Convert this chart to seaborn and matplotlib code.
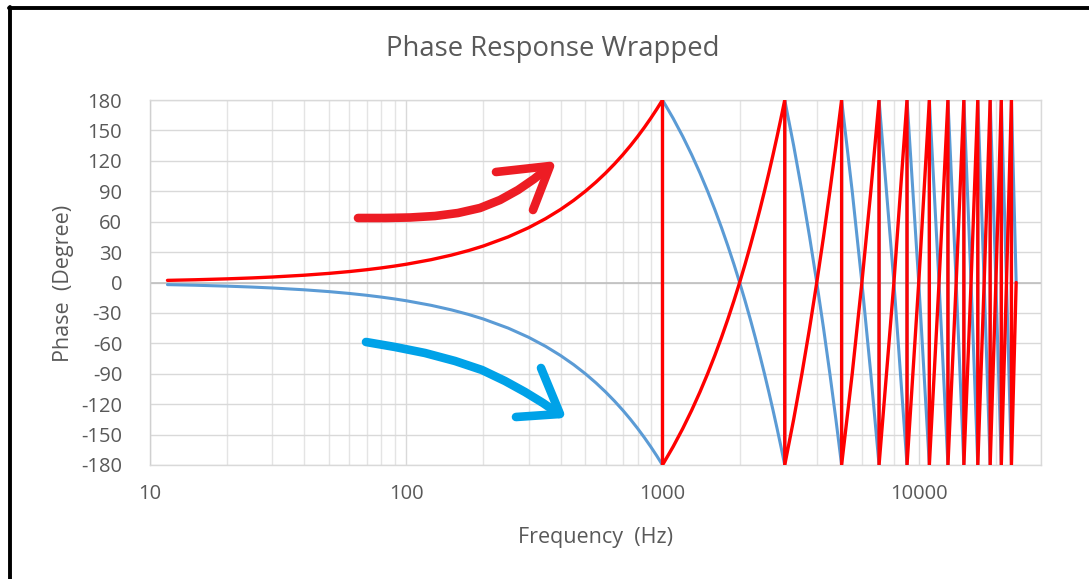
import numpy as np
import pandas as pd
import matplotlib
matplotlib.use("Agg")
import matplotlib.pyplot as plt
import matplotlib.ticker as mticker
from matplotlib.lines import Line2D
import seaborn as sns

# ---------------- data ----------------
freq_hz = [11.7, 15, 20, 25, 30, 40, 50, 60, 70, 80, 90, 100, 125, 150, 175,
           200, 250, 300, 350, 400, 450, 500, 550, 600, 650, 700, 750, 800, 850, 900, 950, 1000,
           1000, 1100, 1200, 1300, 1400, 1500, 1600, 1700, 1800, 1900, 2000,
           2100, 2200, 2300, 2400, 2500, 2600, 2700, 2800, 2900, 3000,
           3000, 3250, 3500, 3750, 4000, 4250, 4500, 4750, 5000,
           5000, 5500, 6000, 6500, 7000,
           7000, 8000, 9000,
           9000, 10000, 11000,
           11000, 12000, 13000,
           13000, 14000, 15000,
           15000, 16000, 17000,
           17000, 18000, 19000,
           19000, 20000, 21000,
           21000, 22000, 23000,
           23000, 24000]

red_phase = [2.1, 2.7, 3.6, 4.5, 5.4, 7.2, 9, 10.8, 12.6, 14.4, 16.2, 18, 22.5, 27, 31.5,
             36, 45, 54, 63, 72, 81, 90, 99, 108, 117, 126, 135, 144, 153, 162, 171, 180,
             -180, -162, -144, -126, -108, -90, -72, -54, -36, -18, 0,
             18, 36, 54, 72, 90, 108, 126, 144, 162, 180,
             -180, -135, -90, -45, 0, 45, 90, 135, 180,
             -180, -90, 0, 90, 180,
             -180, 0, 180,
             -180, 0, 180,
             -180, 0, 180,
             -180, 0, 180,
             -180, 0, 180,
             -180, 0, 180,
             -180, 0, 180,
             -180, 0, 180,
             -180, 0]

blue_phase = [-2.1, -2.7, -3.6, -4.5, -5.4, -7.2, -9, -10.8, -12.6, -14.4, -16.2, -18, -22.5, -27, -31.5,
              -36, -45, -54, -63, -72, -81, -90, -99, -108, -117, -126, -135, -144, -153, -162, -171, -180,
              180, 162, 144, 126, 108, 90, 72, 54, 36, 18, 0,
              -18, -36, -54, -72, -90, -108, -126, -144, -162, -180,
              180, 135, 90, 45, 0, -45, -90, -135, -180,
              180, 90, 0, -90, -180,
              180, 0, -180,
              180, 0, -180,
              180, 0, -180,
              180, 0, -180,
              180, 0, -180,
              180, 0, -180,
              180, 0, -180,
              180, 0, -180,
              180, 0]

series_names = ["Blue", "Red"]
y_ticks = [180, 150, 120, 90, 60, 30, 0, -30, -60, -90, -120, -150, -180]
x_ticks = [10, 100, 1000, 10000]
x_tick_labels = ["10", "100", "1000", "10000"]

title_text = "Phase Response Wrapped"
x_label = "Frequency  (Hz)"
y_label = "Phase  (Degree)"

# ---------------- build table ----------------
n = len(freq_hz)
df = pd.DataFrame({
    "freq": freq_hz + freq_hz,
    "phase": blue_phase + red_phase,
    "series": [series_names[0]] * n + [series_names[1]] * n,
})

# ---------------- style ----------------
sns.set_theme(style="white")
plt.rcParams["font.family"] = ["Open Sans", "DejaVu Sans"]
plt.rcParams["axes.unicode_minus"] = False
text_color = "#595959"
grid_color = "#d9d9d9"

W, H = 1089, 579
fig = plt.figure(figsize=(W / 100, H / 100), dpi=100)
fig.patch.set_facecolor("white")
ax = fig.add_axes([150 / W, 1 - 465 / H, (1041 - 150) / W, (465 - 100) / H])

palette = {"Blue": "#5b9bd5", "Red": "#ff0000"}
sns.lineplot(data=df[df.series == "Blue"], x="freq", y="phase", sort=False, estimator=None,
             color=palette["Blue"], linewidth=2.2, ax=ax, zorder=3)
sns.lineplot(data=df[df.series == "Red"], x="freq", y="phase", sort=False, estimator=None,
             color=palette["Red"], linewidth=2.4, ax=ax, zorder=4)

ax.set_xscale("log")
ax.set_xlim(10, 30000)
ax.set_ylim(-180, 180)

ax.xaxis.set_major_locator(mticker.FixedLocator(x_ticks))
ax.xaxis.set_major_formatter(mticker.FixedFormatter(x_tick_labels))
ax.xaxis.set_minor_locator(mticker.LogLocator(base=10, subs=np.arange(2, 10)))
ax.xaxis.set_minor_formatter(mticker.NullFormatter())
ax.set_yticks(y_ticks)

ax.grid(True, which="major", axis="both", color=grid_color, linewidth=1.0, zorder=0)
ax.grid(True, which="minor", axis="x", color="#e4e4e4", linewidth=1.0, zorder=0)
ax.axhline(0, color="#bfbfbf", linewidth=1.2, zorder=1)

for side in ["top", "right", "bottom", "left"]:
    ax.spines[side].set_color(grid_color)
    ax.spines[side].set_linewidth(1.0)
ax.spines["left"].set_color("#d0d0d0")

ax.tick_params(axis="both", which="both", length=0, colors=text_color, labelsize=14.5)
ax.tick_params(axis="x", pad=14)
ax.tick_params(axis="y", pad=20)

ax.set_xlabel(x_label, color=text_color, fontsize=15.5)
ax.set_ylabel(y_label, color=text_color, fontsize=15.5)
ax.xaxis.set_label_coords((595 - 150) / 891, (465 - 537) / 365)
ax.xaxis.label.set_va("center")
ax.yaxis.set_label_coords((63 - 150) / 891, (465 - 283) / 365)
ax.yaxis.label.set_va("center")

fig.text(553 / W, 1 - 49 / H, title_text, ha="center", va="center", color=text_color, fontsize=19.8)

# ---------------- hand-drawn annotation arrows (figure pixels) ----------------
def px_line(xs, ys, color, lw):
    fig.add_artist(Line2D([x / W for x in xs], [1 - y / H for y in ys], transform=fig.transFigure,
                          color=color, linewidth=lw, solid_capstyle="round", solid_joinstyle="round",
                          zorder=10))

red_arrow = "#ed1c24"
blue_arrow = "#00a2e8"
px_line([358, 385, 410, 435, 458, 480, 500, 518, 534, 549],
        [218, 218, 217.5, 216, 213, 208, 200, 190, 179, 167], red_arrow, 6.2)
px_line([496, 550, 533], [172, 166, 210], red_arrow, 6.2)
px_line([366, 395, 425, 455, 482, 505, 525, 543, 559],
        [342, 347, 353, 361, 370, 381, 392, 403, 414], blue_arrow, 6.2)
px_line([541, 560, 516], [368, 414, 417], blue_arrow, 6.2)

# ---------------- screenshot frame ----------------
px_line([10, 10], [7, 579], "black", 2.8)
px_line([9, 1089], [7.5, 7.5], "black", 2.8)

fig.savefig("out.png", dpi=100, facecolor="white")
